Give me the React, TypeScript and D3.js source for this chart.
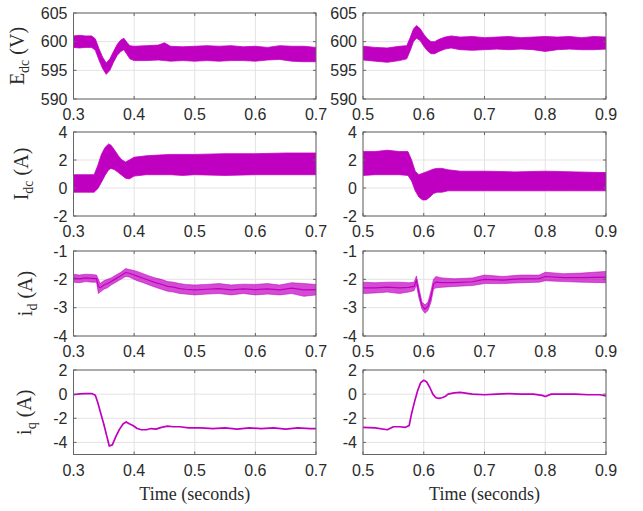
import React from "react";
import * as d3 from "d3";

// ---------- Data ----------
// Row 1: E_dc (V)
const edcLT = [0.300, 0.310, 0.320, 0.330, 0.336, 0.342, 0.348, 0.354, 0.360, 0.366, 0.372, 0.378, 0.383, 0.388, 0.393, 0.400, 0.420, 0.440, 0.450, 0.460, 0.480, 0.500, 0.520, 0.540, 0.560, 0.580, 0.600, 0.620, 0.640, 0.660, 0.680, 0.700];
const edcLHi = [601.0, 601.1, 601.0, 601.0, 600.5, 598.8, 597.3, 596.3, 597.0, 598.3, 599.5, 600.3, 600.6, 599.9, 599.3, 599.2, 599.3, 599.4, 599.8, 599.2, 599.1, 599.2, 599.3, 599.2, 599.3, 599.1, 599.2, 599.0, 599.3, 599.2, 599.2, 599.0];
const edcLLo = [599.0, 598.9, 599.0, 599.0, 598.5, 596.8, 595.3, 594.3, 595.0, 596.4, 597.6, 598.3, 598.6, 597.8, 597.0, 596.7, 596.7, 596.8, 596.7, 596.6, 596.7, 596.6, 596.7, 596.6, 596.7, 596.7, 596.6, 596.8, 596.9, 596.6, 596.5, 596.5];

const edcRT = [0.500, 0.520, 0.540, 0.560, 0.572, 0.578, 0.583, 0.588, 0.594, 0.600, 0.606, 0.612, 0.618, 0.625, 0.635, 0.645, 0.660, 0.680, 0.700, 0.720, 0.740, 0.760, 0.780, 0.800, 0.820, 0.840, 0.860, 0.880, 0.900];
const edcRHi = [599.2, 599.0, 598.9, 599.2, 599.3, 600.8, 602.2, 602.8, 602.3, 601.3, 600.5, 600.0, 600.0, 600.4, 600.8, 601.0, 600.8, 600.9, 600.7, 600.8, 600.9, 600.7, 600.8, 600.9, 600.8, 600.9, 600.7, 600.9, 600.8];
const edcRLo = [596.8, 596.6, 596.4, 596.7, 597.0, 598.5, 600.0, 600.6, 600.2, 599.2, 598.4, 597.9, 597.9, 598.3, 598.7, 598.9, 598.6, 598.5, 598.6, 598.7, 598.6, 598.7, 598.6, 598.3, 598.6, 598.7, 598.6, 598.6, 598.7];

// Row 2: I_dc (A)
const idcLT = [0.300, 0.320, 0.334, 0.340, 0.346, 0.352, 0.358, 0.362, 0.368, 0.374, 0.380, 0.386, 0.392, 0.400, 0.420, 0.440, 0.460, 0.480, 0.500, 0.550, 0.600, 0.650, 0.700];
const idcLHi = [0.95, 0.95, 0.95, 1.6, 2.4, 2.9, 3.15, 3.05, 2.7, 2.3, 2.0, 1.85, 2.0, 2.2, 2.3, 2.35, 2.4, 2.4, 2.4, 2.45, 2.45, 2.5, 2.5];
const idcLLo = [-0.3, -0.3, -0.3, -0.05, 0.4, 0.9, 1.3, 1.4, 1.3, 1.1, 0.9, 0.7, 0.65, 0.85, 0.95, 0.95, 0.95, 0.9, 0.95, 0.9, 0.95, 0.95, 0.95];

const idcRT = [0.500, 0.520, 0.540, 0.560, 0.574, 0.580, 0.586, 0.592, 0.598, 0.604, 0.610, 0.616, 0.622, 0.630, 0.640, 0.660, 0.700, 0.750, 0.800, 0.850, 0.900];
const idcRHi = [2.6, 2.6, 2.7, 2.6, 2.6, 2.0, 1.2, 0.95, 1.05, 1.15, 1.25, 1.35, 1.4, 1.4, 1.3, 1.2, 1.2, 1.15, 1.2, 1.15, 1.1];
const idcRLo = [0.9, 0.95, 0.95, 0.95, 0.9, 0.5, -0.2, -0.65, -0.85, -0.85, -0.65, -0.4, -0.3, -0.3, -0.2, -0.2, -0.2, -0.2, -0.2, -0.2, -0.2];

// Row 3: i_d (A)
const idLT = [0.300, 0.310, 0.320, 0.330, 0.338, 0.341, 0.344, 0.350, 0.356, 0.362, 0.370, 0.378, 0.386, 0.392, 0.398, 0.405, 0.415, 0.425, 0.435, 0.445, 0.455, 0.465, 0.475, 0.485, 0.500, 0.520, 0.540, 0.560, 0.580, 0.600, 0.620, 0.640, 0.660, 0.680, 0.700];
const idLHi = [-1.82, -1.85, -1.82, -1.83, -1.85, -2.0, -2.15, -2.05, -2.0, -1.95, -1.85, -1.75, -1.62, -1.65, -1.68, -1.72, -1.8, -1.88, -1.95, -2.0, -2.08, -2.1, -2.15, -2.18, -2.2, -2.18, -2.15, -2.2, -2.17, -2.18, -2.15, -2.2, -2.12, -2.15, -2.18];
const idLLo = [-2.1, -2.12, -2.08, -2.1, -2.1, -2.5, -2.45, -2.35, -2.3, -2.2, -2.1, -2.0, -1.9, -1.92, -1.98, -2.05, -2.12, -2.2, -2.28, -2.35, -2.42, -2.45, -2.5, -2.52, -2.55, -2.52, -2.5, -2.55, -2.5, -2.55, -2.52, -2.55, -2.5, -2.6, -2.55];

const idRT = [0.500, 0.520, 0.540, 0.560, 0.575, 0.584, 0.588, 0.592, 0.597, 0.602, 0.607, 0.612, 0.616, 0.620, 0.630, 0.650, 0.680, 0.700, 0.730, 0.760, 0.790, 0.800, 0.830, 0.860, 0.900];
const idRHi = [-2.1, -2.12, -2.1, -2.1, -2.12, -2.1, -1.88, -2.3, -2.8, -2.9, -2.8, -2.4, -2.0, -1.9, -1.95, -1.98, -1.95, -1.85, -1.9, -1.85, -1.85, -1.75, -1.8, -1.78, -1.72];
const idRLo = [-2.5, -2.48, -2.45, -2.5, -2.45, -2.4, -2.2, -2.65, -3.05, -3.2, -3.1, -2.8, -2.35, -2.3, -2.28, -2.25, -2.22, -2.15, -2.15, -2.12, -2.1, -2.05, -2.08, -2.1, -2.12];

// Row 4: i_q (A)
const iqLT = [0.300, 0.310, 0.320, 0.330, 0.336, 0.340, 0.345, 0.350, 0.355, 0.359, 0.364, 0.370, 0.376, 0.382, 0.387, 0.392, 0.398, 0.405, 0.412, 0.420, 0.428, 0.436, 0.445, 0.455, 0.465, 0.475, 0.490, 0.510, 0.530, 0.550, 0.570, 0.590, 0.610, 0.630, 0.650, 0.670, 0.690, 0.700];
const iqLV = [-0.05, 0.02, 0.05, 0.05, -0.1, -0.7, -1.6, -2.5, -3.5, -4.3, -4.2, -3.5, -2.9, -2.45, -2.3, -2.45, -2.6, -2.85, -2.95, -2.95, -2.85, -2.9, -2.75, -2.65, -2.7, -2.7, -2.8, -2.8, -2.85, -2.8, -2.9, -2.8, -2.85, -2.8, -2.9, -2.8, -2.85, -2.85];

const iqRT = [0.500, 0.520, 0.540, 0.550, 0.560, 0.570, 0.576, 0.580, 0.585, 0.590, 0.595, 0.600, 0.605, 0.610, 0.615, 0.620, 0.625, 0.630, 0.635, 0.640, 0.650, 0.660, 0.680, 0.700, 0.720, 0.740, 0.760, 0.780, 0.795, 0.800, 0.810, 0.830, 0.850, 0.870, 0.890, 0.900];
const iqRV = [-2.75, -2.8, -2.95, -2.7, -2.7, -2.75, -2.6, -1.6, -0.6, 0.3, 0.95, 1.15, 1.0, 0.55, 0.0, -0.3, -0.35, -0.3, -0.2, 0.0, 0.1, 0.15, 0.0, -0.05, 0.0, 0.05, 0.0, 0.0, -0.1, -0.2, 0.0, 0.0, 0.0, -0.05, -0.05, -0.15];

// Axes ticks
const xTicksLeft = [0.3, 0.4, 0.5, 0.6, 0.7];
const xTicksRight = [0.5, 0.6, 0.7, 0.8, 0.9];
const yTicksEdc = [590, 595, 600, 605];
const yTicksIdc = [-2, 0, 2, 4];
const yTicksId = [-4, -3, -2, -1];
const yTicksIq = [-4, -2, 0, 2];

// ---------- Layout ----------
const W = 643;
const H = 511;
const COLS = [
  { x0: 73.5, x1: 316 },
  { x0: 363, x1: 606 },
];
const ROWS = [
  { y0: 13, y1: 99 },
  { y0: 132, y1: 216 },
  { y0: 251, y1: 336 },
  { y0: 370, y1: 454.5 },
];
const MAGENTA = "#c000c0";
const AXIS = "#666666";
const GRID = "#e3e3e3";
const TEXT = "#2b2b2b";
const SANS = "'Liberation Sans', Arial, Helvetica, sans-serif";
const SERIF = "'Liberation Serif', 'Times New Roman', serif";

type Series =
  | { kind: "band"; t: number[]; hi: number[]; lo: number[]; opacity?: number; mid?: boolean }
  | { kind: "line"; t: number[]; v: number[] };

function Panel(props: {
  id: string;
  col: number;
  row: number;
  xDomain: [number, number];
  yDomain: [number, number];
  xTicks: number[];
  yTicks: number[];
  series: Series;
}) {
  const { id, col, row, xDomain, yDomain, xTicks, yTicks, series } = props;
  const { x0, x1 } = COLS[col];
  const { y0, y1 } = ROWS[row];
  const x = d3.scaleLinear().domain(xDomain).range([x0, x1]);
  const y = d3.scaleLinear().domain(yDomain).range([y1, y0]);
  const tl = 3;

  let paths: React.ReactNode = null;
  if (series.kind === "band") {
    const idx = d3.range(series.t.length);
    const area = d3
      .area<number>()
      .x((i) => x(series.t[i]))
      .y0((i) => y(series.lo[i]))
      .y1((i) => y(series.hi[i]));
    const mid = d3
      .line<number>()
      .x((i) => x(series.t[i]))
      .y((i) => y((series.lo[i] + series.hi[i]) / 2));
    paths = (
      <g clipPath={`url(#clip-${id})`}>
        <path d={area(idx) || ""} fill={MAGENTA} fillOpacity={series.opacity ?? 1} stroke={MAGENTA} strokeOpacity={series.opacity ?? 1} strokeWidth={0.8} />
        {series.mid ? <path d={mid(idx) || ""} fill="none" stroke={MAGENTA} strokeWidth={1.2} /> : null}
      </g>
    );
  } else {
    const idx = d3.range(series.t.length);
    const line = d3
      .line<number>()
      .x((i) => x(series.t[i]))
      .y((i) => y(series.v[i]));
    paths = (
      <g clipPath={`url(#clip-${id})`}>
        <path d={line(idx) || ""} fill="none" stroke={MAGENTA} strokeWidth={1.7} strokeLinejoin="round" />
      </g>
    );
  }

  const fmtX = d3.format(".1f");
  return (
    <g>
      <defs>
        <clipPath id={`clip-${id}`}>
          <rect x={x0} y={y0} width={x1 - x0} height={y1 - y0} />
        </clipPath>
      </defs>
      {xTicks.map((t) => (
        <line key={`gx${t}`} x1={x(t)} x2={x(t)} y1={y0} y2={y1} stroke={GRID} strokeWidth={1} />
      ))}
      {yTicks.map((t) => (
        <line key={`gy${t}`} x1={x0} x2={x1} y1={y(t)} y2={y(t)} stroke={GRID} strokeWidth={1} />
      ))}
      {paths}
      {xTicks.map((t) => (
        <g key={`tx${t}`}>
          <line x1={x(t)} x2={x(t)} y1={y1} y2={y1 - tl} stroke={AXIS} />
          <line x1={x(t)} x2={x(t)} y1={y0} y2={y0 + tl} stroke={AXIS} />
        </g>
      ))}
      {yTicks.map((t) => (
        <g key={`ty${t}`}>
          <line x1={x0} x2={x0 + tl} y1={y(t)} y2={y(t)} stroke={AXIS} />
          <line x1={x1} x2={x1 - tl} y1={y(t)} y2={y(t)} stroke={AXIS} />
        </g>
      ))}
      <rect x={x0} y={y0} width={x1 - x0} height={y1 - y0} fill="none" stroke={AXIS} strokeWidth={1} />
      {xTicks.map((t) => (
        <text key={`lx${t}`} x={x(t)} y={y1 + 21} textAnchor="middle" fontFamily={SANS} fontSize={16} fill={TEXT}>
          {fmtX(t)}
        </text>
      ))}
      {yTicks.map((t) => (
        <text key={`ly${t}`} x={x0 - 6} y={y(t)} dy="0.36em" textAnchor="end" fontFamily={SANS} fontSize={16} fill={TEXT}>
          {String(t)}
        </text>
      ))}
    </g>
  );
}

function YLabel(props: { row: number; x: number; main: string; sub: string; unit: string }) {
  const { row, x, main, sub, unit } = props;
  const cy = (ROWS[row].y0 + ROWS[row].y1) / 2;
  return (
    <text transform={`translate(${x},${cy}) rotate(-90)`} textAnchor="middle" fontFamily={SERIF} fontSize={20} fill={TEXT}>
      {main}
      <tspan fontSize={14} dy={5}>{sub}</tspan>
      <tspan dy={-5}>{" " + unit}</tspan>
    </text>
  );
}

export default function App() {
  return (
    <svg width={W} height={H} style={{ position: "absolute", left: 0, top: 0, background: "#fff" }}>
      <rect x={0} y={0} width={W} height={H} fill="#fff" />
      <Panel id="a" col={0} row={0} xDomain={[0.3, 0.7]} yDomain={[590, 605]} xTicks={xTicksLeft} yTicks={yTicksEdc}
        series={{ kind: "band", t: edcLT, hi: edcLHi, lo: edcLLo }} />
      <Panel id="b" col={1} row={0} xDomain={[0.5, 0.9]} yDomain={[590, 605]} xTicks={xTicksRight} yTicks={yTicksEdc}
        series={{ kind: "band", t: edcRT, hi: edcRHi, lo: edcRLo }} />
      <Panel id="c" col={0} row={1} xDomain={[0.3, 0.7]} yDomain={[-2, 4]} xTicks={xTicksLeft} yTicks={yTicksIdc}
        series={{ kind: "band", t: idcLT, hi: idcLHi, lo: idcLLo }} />
      <Panel id="d" col={1} row={1} xDomain={[0.5, 0.9]} yDomain={[-2, 4]} xTicks={xTicksRight} yTicks={yTicksIdc}
        series={{ kind: "band", t: idcRT, hi: idcRHi, lo: idcRLo }} />
      <Panel id="e" col={0} row={2} xDomain={[0.3, 0.7]} yDomain={[-4, -1]} xTicks={xTicksLeft} yTicks={yTicksId}
        series={{ kind: "band", t: idLT, hi: idLHi, lo: idLLo, opacity: 0.7, mid: true }} />
      <Panel id="f" col={1} row={2} xDomain={[0.5, 0.9]} yDomain={[-4, -1]} xTicks={xTicksRight} yTicks={yTicksId}
        series={{ kind: "band", t: idRT, hi: idRHi, lo: idRLo, opacity: 0.7, mid: true }} />
      <Panel id="g" col={0} row={3} xDomain={[0.3, 0.7]} yDomain={[-5, 2]} xTicks={xTicksLeft} yTicks={yTicksIq}
        series={{ kind: "line", t: iqLT, v: iqLV }} />
      <Panel id="h" col={1} row={3} xDomain={[0.5, 0.9]} yDomain={[-5, 2]} xTicks={xTicksRight} yTicks={yTicksIq}
        series={{ kind: "line", t: iqRT, v: iqRV }} />

      <YLabel row={0} x={24} main="E" sub="dc" unit="(V)" />
      <YLabel row={1} x={28} main="I" sub="dc" unit="(A)" />
      <YLabel row={2} x={32} main="i" sub="d" unit="(A)" />
      <YLabel row={3} x={31} main="i" sub="q" unit="(A)" />

      <text x={(COLS[0].x0 + COLS[0].x1) / 2} y={500} textAnchor="middle" fontFamily={SERIF} fontSize={18} fill={TEXT}>
        Time (seconds)
      </text>
      <text x={(COLS[1].x0 + COLS[1].x1) / 2} y={500} textAnchor="middle" fontFamily={SERIF} fontSize={18} fill={TEXT}>
        Time (seconds)
      </text>
    </svg>
  );
}
